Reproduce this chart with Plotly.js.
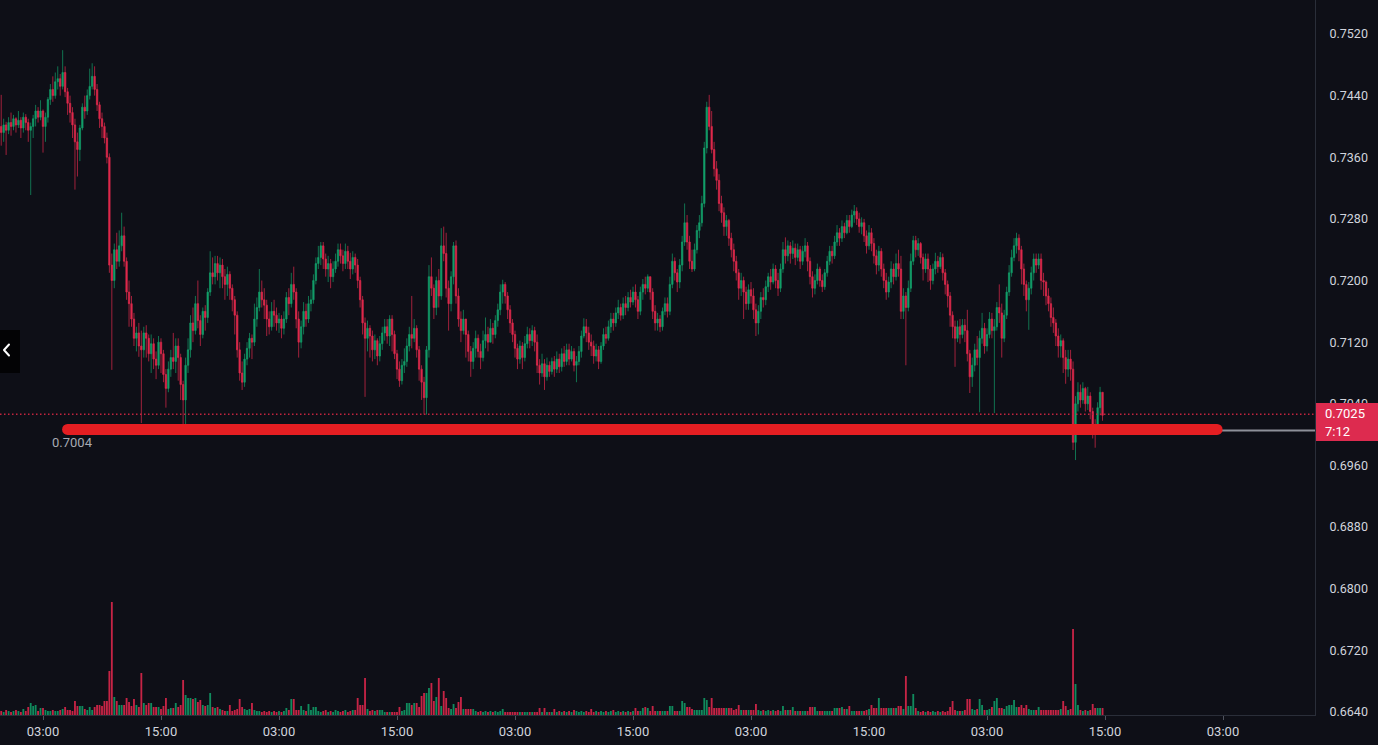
<!DOCTYPE html>
<html><head><meta charset="utf-8">
<script src="https://cdn.plot.ly/plotly-3.0.1.min.js"></script>
<style>html,body{margin:0;padding:0;background:#0e0f17;overflow:hidden}#chart{width:1378px;height:745px}</style>
</head><body><div id="chart"></div>
<script>
// ---- data (prices in 1/10000 units) ----
const firstCandleUTC = Date.UTC(2024, 2, 4, 22, 45);
const candleMinutes = 15;
const firstOpen = 7400;
const closePips = [7392,7402,7395,7405,7400,7410,7402,7408,7398,7412,7405,7395,7400,7410,7420,7412,7420,7400,7412,7435,7448,7440,7458,7462,7452,7470,7445,7430,7418,7402,7380,7370,7398,7425,7420,7440,7452,7465,7448,7428,7410,7400,7385,7360,7220,7200,7240,7225,7245,7258,7225,7185,7170,7150,7125,7132,7115,7110,7132,7125,7105,7118,7098,7090,7120,7105,7078,7060,7085,7100,7095,7115,7100,7065,7045,7090,7110,7145,7135,7170,7148,7130,7160,7152,7185,7210,7205,7222,7210,7220,7205,7195,7208,7190,7175,7155,7110,7080,7068,7098,7112,7125,7120,7150,7165,7185,7175,7168,7150,7140,7160,7155,7145,7150,7138,7150,7178,7170,7195,7185,7150,7120,7140,7160,7150,7170,7175,7200,7222,7230,7245,7228,7215,7222,7205,7215,7225,7240,7232,7222,7238,7225,7215,7230,7220,7200,7175,7145,7125,7138,7128,7110,7122,7102,7118,7132,7140,7128,7150,7130,7105,7085,7070,7090,7095,7115,7130,7125,7138,7110,7085,7068,7048,7110,7205,7190,7165,7200,7180,7245,7235,7190,7170,7205,7245,7180,7150,7135,7150,7130,7108,7095,7112,7125,7108,7100,7122,7130,7120,7138,7130,7148,7162,7185,7195,7180,7162,7145,7130,7112,7098,7115,7100,7118,7130,7122,7135,7120,7090,7080,7092,7075,7090,7082,7095,7085,7098,7088,7105,7095,7110,7098,7108,7090,7095,7108,7128,7140,7132,7120,7115,7102,7110,7095,7115,7130,7125,7140,7150,7145,7158,7165,7155,7170,7165,7178,7172,7185,7175,7160,7185,7195,7190,7205,7185,7160,7145,7150,7140,7160,7170,7160,7195,7225,7210,7198,7220,7250,7275,7250,7225,7215,7240,7265,7275,7300,7372,7425,7400,7370,7345,7330,7300,7288,7270,7278,7255,7240,7225,7210,7190,7200,7185,7170,7188,7180,7162,7145,7160,7178,7175,7192,7205,7198,7215,7200,7190,7215,7240,7232,7245,7235,7242,7230,7240,7225,7238,7245,7225,7205,7190,7200,7215,7200,7192,7210,7225,7238,7232,7250,7262,7255,7270,7262,7278,7270,7285,7290,7280,7270,7275,7258,7245,7262,7248,7232,7220,7238,7215,7200,7185,7198,7215,7205,7222,7215,7160,7180,7165,7190,7225,7252,7240,7248,7230,7215,7228,7215,7200,7215,7225,7218,7230,7210,7195,7180,7155,7140,7125,7140,7130,7142,7135,7105,7075,7090,7110,7100,7125,7138,7115,7130,7150,7135,7140,7165,7158,7125,7155,7185,7210,7230,7245,7255,7240,7215,7195,7175,7190,7210,7228,7220,7228,7200,7198,7180,7170,7152,7145,7128,7115,7122,7100,7085,7098,7085,6990,7040,7055,7045,7060,7040,7050,7030,7010,7002,7035,7055,7025];
const highPips = [7441,7410,7406,7412,7418,7415,7412,7420,7412,7418,7416,7410,7405,7415,7428,7425,7434,7422,7418,7438,7455,7465,7470,7478,7468,7499,7478,7450,7440,7425,7410,7392,7402,7430,7440,7448,7475,7482,7478,7455,7432,7418,7405,7392,7365,7235,7248,7262,7265,7288,7270,7230,7200,7180,7158,7140,7145,7135,7140,7142,7130,7130,7125,7108,7128,7125,7110,7085,7095,7110,7132,7125,7125,7105,7070,7100,7125,7155,7165,7180,7200,7155,7165,7168,7190,7238,7230,7232,7232,7230,7228,7215,7218,7212,7195,7180,7160,7120,7095,7105,7120,7132,7130,7170,7178,7215,7200,7190,7175,7160,7172,7175,7165,7158,7155,7160,7185,7190,7210,7218,7190,7160,7148,7172,7170,7180,7188,7208,7230,7245,7250,7250,7235,7232,7228,7225,7235,7248,7248,7240,7248,7245,7236,7238,7235,7228,7205,7180,7152,7148,7142,7135,7130,7125,7128,7140,7150,7150,7155,7155,7135,7110,7095,7098,7112,7125,7140,7180,7150,7142,7115,7090,7075,7115,7220,7230,7195,7205,7215,7268,7270,7262,7200,7212,7250,7252,7190,7160,7162,7150,7135,7115,7120,7135,7130,7118,7135,7152,7140,7150,7145,7155,7170,7195,7201,7198,7185,7168,7150,7135,7118,7122,7120,7128,7140,7138,7142,7140,7130,7098,7105,7098,7100,7095,7100,7102,7108,7105,7112,7115,7118,7118,7115,7112,7102,7115,7135,7151,7150,7140,7130,7122,7118,7115,7120,7138,7140,7148,7158,7158,7165,7175,7170,7178,7180,7185,7188,7192,7195,7180,7192,7202,7205,7208,7205,7190,7168,7158,7155,7165,7178,7178,7205,7235,7230,7215,7228,7258,7300,7285,7258,7240,7248,7272,7285,7310,7380,7432,7441,7420,7380,7355,7338,7310,7295,7285,7280,7262,7248,7232,7215,7210,7205,7192,7195,7198,7190,7170,7168,7185,7190,7200,7210,7215,7222,7220,7210,7222,7250,7256,7252,7250,7252,7248,7248,7245,7245,7255,7250,7230,7212,7208,7222,7218,7208,7215,7232,7245,7245,7258,7272,7268,7278,7275,7285,7285,7292,7298,7295,7288,7282,7280,7265,7272,7268,7255,7240,7245,7242,7222,7210,7205,7225,7222,7235,7240,7232,7190,7185,7200,7235,7258,7258,7255,7250,7235,7235,7235,7220,7222,7236,7232,7237,7235,7215,7200,7185,7160,7148,7148,7150,7150,7150,7162,7110,7100,7118,7128,7135,7158,7145,7138,7159,7158,7150,7172,7195,7170,7162,7192,7220,7240,7255,7262,7260,7245,7222,7200,7198,7218,7235,7235,7235,7235,7210,7200,7190,7178,7165,7150,7138,7130,7125,7110,7110,7110,7095,7050,7068,7065,7068,7062,7062,7055,7035,7020,7042,7062,7052];
const lowPips = [7375,7380,7363,7390,7388,7395,7392,7398,7385,7392,7395,7380,7311,7385,7400,7405,7408,7366,7380,7405,7428,7432,7436,7448,7440,7448,7438,7415,7405,7385,7318,7335,7355,7395,7410,7415,7435,7448,7440,7420,7398,7385,7378,7352,7210,7084,7190,7215,7218,7238,7218,7175,7140,7140,7115,7108,7101,7015,7100,7100,7095,7080,7085,7072,7085,7080,7068,7035,7055,7075,7085,7080,7070,7045,7002,7012,7080,7100,7120,7130,7138,7115,7125,7135,7145,7180,7195,7195,7200,7190,7190,7175,7180,7175,7160,7130,7100,7070,7058,7062,7090,7100,7098,7115,7140,7160,7165,7150,7128,7130,7135,7140,7135,7132,7125,7130,7145,7155,7165,7175,7138,7100,7112,7130,7140,7145,7160,7170,7195,7215,7220,7215,7205,7198,7190,7198,7210,7218,7222,7212,7215,7215,7202,7208,7210,7190,7165,7130,7049,7108,7100,7095,7098,7090,7095,7110,7122,7118,7115,7108,7098,7072,7062,7065,7080,7088,7108,7112,7120,7100,7070,7045,7026,7026,7100,7180,7150,7155,7165,7175,7225,7178,7135,7160,7195,7170,7140,7120,7130,7100,7095,7075,7085,7100,7100,7085,7095,7112,7108,7120,7118,7125,7140,7155,7170,7170,7150,7132,7120,7100,7085,7092,7085,7095,7112,7112,7115,7108,7080,7065,7075,7058,7070,7075,7078,7075,7080,7080,7082,7088,7090,7090,7095,7082,7068,7090,7100,7125,7120,7110,7102,7092,7095,7085,7092,7110,7118,7122,7132,7135,7140,7150,7148,7150,7155,7160,7165,7168,7165,7150,7155,7175,7182,7185,7175,7150,7135,7135,7133,7135,7155,7152,7155,7190,7200,7185,7190,7212,7245,7240,7215,7211,7212,7235,7255,7270,7295,7365,7395,7365,7335,7318,7290,7275,7258,7258,7245,7230,7212,7200,7175,7180,7150,7162,7162,7170,7150,7128,7130,7150,7165,7168,7185,7188,7195,7190,7180,7185,7210,7222,7225,7222,7228,7220,7225,7215,7220,7230,7212,7195,7178,7182,7195,7192,7185,7188,7205,7220,7222,7228,7245,7245,7250,7255,7260,7262,7268,7275,7272,7262,7260,7250,7235,7240,7238,7222,7208,7212,7205,7190,7175,7178,7190,7195,7200,7205,7150,7150,7090,7160,7185,7220,7230,7232,7222,7200,7210,7198,7188,7195,7208,7210,7215,7200,7182,7165,7140,7125,7088,7120,7118,7125,7120,7095,7054,7062,7082,7090,7029,7118,7105,7108,7125,7125,7028,7135,7145,7100,7120,7150,7180,7205,7225,7235,7225,7195,7180,7160,7136,7182,7200,7210,7215,7188,7180,7168,7160,7140,7132,7115,7100,7100,7080,7066,7075,7070,6980,6967,7030,7035,7040,7030,7032,7020,6995,6983,7000,7025,7018];
const volume = [4,3,5,4,3,4,5,4,3,6,4,8,12,9,10,4,7,7,5,4,4,5,4,4,5,6,8,5,5,4,14,9,9,9,6,5,8,5,8,10,10,9,14,14,44,113,18,14,10,10,10,17,13,9,16,10,8,42,12,10,12,12,8,8,8,6,9,17,6,7,7,12,8,10,35,20,17,17,16,17,13,15,10,9,10,22,8,7,8,6,5,4,4,10,4,5,6,16,8,6,5,6,12,5,4,4,3,4,3,4,3,4,3,4,3,4,7,5,16,16,5,5,9,5,4,11,5,8,8,4,3,4,5,3,4,3,5,4,3,4,5,3,4,5,5,17,10,10,37,6,4,5,4,5,5,5,3,3,3,3,3,3,8,4,5,12,12,10,12,12,8,19,22,22,27,32,14,18,37,9,24,17,7,6,11,7,13,18,6,6,6,6,6,4,3,4,3,4,3,4,3,4,3,4,6,3,3,3,3,3,3,3,3,3,3,3,3,3,3,7,3,7,3,3,3,6,3,4,3,4,3,4,3,5,4,3,4,3,4,3,6,3,4,3,4,3,4,3,4,5,3,4,3,4,3,4,3,4,7,4,4,7,8,7,4,9,4,4,4,4,4,4,9,9,4,4,4,14,12,8,8,6,5,5,5,5,17,15,8,17,7,7,7,7,7,7,7,7,5,6,10,5,5,5,5,5,5,11,5,4,5,4,5,4,5,4,5,4,9,5,5,5,8,4,4,4,4,4,4,8,8,8,4,4,4,4,4,4,4,7,7,7,8,6,6,9,4,4,4,4,4,4,5,6,10,7,7,17,7,7,7,7,7,7,7,9,9,6,39,9,9,21,7,4,3,4,3,4,3,4,3,4,3,4,3,4,8,14,5,4,4,4,5,16,16,6,5,6,16,10,5,5,6,8,14,17,7,7,6,9,10,10,15,8,8,10,7,10,6,5,5,5,8,5,5,5,5,5,5,5,5,6,14,9,5,6,86,31,10,5,4,5,4,5,11,7,7,7,7];
const yTickValues = [0.6640,0.6720,0.6800,0.6880,0.6960,0.7040,0.7120,0.7200,0.7280,0.7360,0.7440,0.7520];
const lastPriceText = '0.7025';
const countdownText = '7:12';
const levelText = '0.7004';

// ---- build series ----
const x = [], open = [], high = [], low = [], close = [];
for (let i = 0; i < closePips.length; i++) {
  const o = (i === 0 ? firstOpen : closePips[i-1]) / 10000;
  const c = closePips[i] / 10000;
  x.push(firstCandleUTC + i * candleMinutes * 60000);
  open.push(o); close.push(c);
  high.push(Math.max(highPips[i] / 10000, o, c));
  low.push(Math.min(lowPips[i] / 10000, o, c));
}
const G = '#129e69', R = '#e0294c';
const volColors = close.map((c, i) => c >= open[i] ? 'rgba(16,150,100,0.92)' : 'rgba(214,38,74,0.92)');

const W = 1378, H = 745, mR = 63, mB = 30;
const pw = W - mR, ph = H - mB;
const px = v => v / pw, py = v => 1 - v / ph;
const xRange = ['2024-03-04 22:37:38', '2024-03-10 12:21:22'];
const lineStart = Date.UTC(2024, 2, 5, 5, 30), lineEnd = Date.UTC(2024, 2, 10, 2, 24);
const rayStart = Date.UTC(2024, 2, 10, 2, 54);
const font = 'Roboto, "Open Sans", sans-serif';

const traces = [
  {type: 'bar', x: x, y: volume, yaxis: 'y2', marker: {color: volColors, line: {width: 0}}, hoverinfo: 'skip'},
  {type: 'candlestick', x: x, open: open, high: high, low: low, close: close,
   increasing: {line: {color: G, width: 0.7}, fillcolor: G},
   decreasing: {line: {color: R, width: 0.7}, fillcolor: R},
   whiskerwidth: 0, hoverinfo: 'skip'}
];

const layout = {
  width: W, height: H,
  margin: {l: 0, r: mR, t: 0, b: mB, pad: 0},
  paper_bgcolor: '#0e0f17', plot_bgcolor: '#0e0f17',
  showlegend: false, hovermode: false, bargap: 0.25, boxgap: 0.18,
  font: {family: font, color: '#d1d4dc', size: 12},
  xaxis: {type: 'date', range: xRange, rangeslider: {visible: false},
    tick0: '2024-03-05 03:00', dtick: 43200000, tickformat: '%H:%M',
    showgrid: false, zeroline: false, showline: true, linecolor: '#2a2e39', linewidth: 1,
    ticks: 'outside', ticklen: 4, tickcolor: '#50535e', tickwidth: 1,
    tickfont: {size: 13, color: '#d1d4dc', family: font}, fixedrange: true},
  yaxis: {side: 'right', range: [0.66361, 0.75641], tickvals: yTickValues, tickformat: '.4f',
    showgrid: false, zeroline: false, showline: true, linecolor: '#2a2e39', linewidth: 1,
    ticks: '', ticklabelstandoff: 11, tickfont: {size: 12.5, color: '#d1d4dc', family: font}, fixedrange: true},
  yaxis2: {overlaying: 'y', range: [0, 715], visible: false, fixedrange: true},
  shapes: [
    {type: 'line', xref: 'paper', yref: 'y', x0: 0, x1: 1, y0: 0.70265, y1: 0.70265,
     line: {color: '#c2253f', width: 1.5, dash: '1.5px,2.5px'}},
    {type: 'line', xref: 'x', yref: 'y', x0: rayStart, x1: xRange[1], y0: 0.70055, y1: 0.70055,
     line: {color: '#8d9099', width: 2}},
    {type: 'line', xref: 'x', yref: 'y', x0: lineStart, x1: lineEnd, y0: 0.70068, y1: 0.70068,
     line: {color: '#e41e22', width: 11}},
    {type: 'rect', xref: 'paper', yref: 'paper', x0: px(1316), x1: px(1378), y0: py(441), y1: py(403),
     fillcolor: '#dd2b4f', line: {width: 0}},
    {type: 'rect', xref: 'paper', yref: 'paper', x0: 0, x1: px(20), y0: py(373), y1: py(330),
     fillcolor: '#030305', line: {width: 0}},
    {type: 'path', xref: 'paper', yref: 'paper',
     path: 'M ' + px(9) + ' ' + py(344.5) + ' L ' + px(4) + ' ' + py(350) + ' L ' + px(9) + ' ' + py(355.5),
     line: {color: '#ffffff', width: 2}}
  ],
  annotations: [
    {xref: 'paper', yref: 'paper', x: px(1323), y: py(413), xanchor: 'left', yanchor: 'middle', showarrow: false,
     text: lastPriceText, font: {family: font, size: 13, color: '#ffffff'}},
    {xref: 'paper', yref: 'paper', x: px(1323), y: py(431), xanchor: 'left', yanchor: 'middle', showarrow: false,
     text: countdownText, font: {family: font, size: 13, color: '#ffffff'}},
    {xref: 'paper', yref: 'paper', x: px(72), y: py(442), xanchor: 'center', yanchor: 'middle', showarrow: false,
     text: levelText, font: {family: font, size: 13, color: '#a7aab3'}}
  ]
};

Plotly.newPlot('chart', traces, layout, {displayModeBar: false, staticPlot: true}).then(() => {
  document.querySelectorAll('#chart .shapelayer path').forEach(p => {
    if (parseFloat(p.style.strokeWidth) >= 10) { p.style.strokeLinecap = 'round'; }
    if (parseFloat(p.style.strokeWidth) === 2 && p.getAttribute('d').split('L').length === 3) {
      p.style.strokeLinejoin = 'round'; p.style.strokeLinecap = 'round';
    }
  });
});
</script></body></html>
